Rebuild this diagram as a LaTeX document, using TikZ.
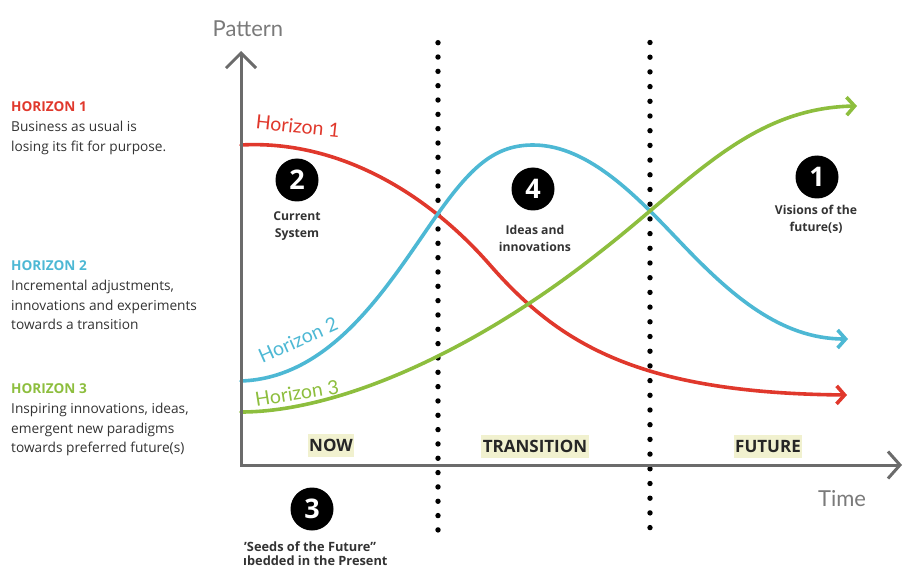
\documentclass[tikz,border=0pt]{standalone}
\usepackage{fontspec}
\setmainfont{Open Sans}
\newfontfamily\latofont{Lato}
\usetikzlibrary{arrows.meta}
\definecolor{hred}{HTML}{E0382C}
\definecolor{hblue}{HTML}{4DB8D4}
\definecolor{hgreen}{HTML}{8DBE3E}
\definecolor{axisgray}{HTML}{6B6B6B}
\definecolor{lightgray}{HTML}{7A7A7A}
\definecolor{hl}{HTML}{F1F1CF}
\definecolor{txt}{HTML}{333333}
\begin{document}
\begin{tikzpicture}[x=1pt,y=-1pt,
  curve/.style={line width=3.6pt, line cap=round, line join=round,
    -{Straight Barb[length=8pt,width=18pt]}},
  axisline/.style={line width=3pt, draw=axisgray, line join=miter,
    {Straight Barb[length=15pt,width=30pt]}-{Straight Barb[length=12pt,width=27pt]}},
  dotmark/.style={fill=black},
  numcirc/.style={circle, fill=black, minimum size=43pt, inner sep=0pt,
    text=white, font=\bfseries\fontsize{27}{27}\selectfont},
  lbl/.style={font=\bfseries\fontsize{12.2}{17}\selectfont, text=txt, align=center},
  seeds/.style={font=\bfseries\fontsize{12.8}{16}\selectfont, text=txt, anchor=base west, inner sep=0pt},
  region/.style={fill=hl, text=black!85, font=\bfseries\fontsize{17}{17}\selectfont,
    text height=12pt, text depth=0pt, inner xsep=1.5pt, inner ysep=5.5pt},
  lefthead/.style={anchor=base west, font=\bfseries\fontsize{13.6}{13.6}\selectfont, inner sep=0pt},
  leftbody/.style={anchor=base west, font=\fontsize{13.7}{13.7}\selectfont, text=txt, inner sep=0pt},
  axislabel/.style={anchor=base, font=\latofont\fontsize{22}{22}\selectfont, text=lightgray, inner sep=0pt},
  curvelabel/.style={font=\latofont\fontsize{19.5}{19.5}\selectfont, inner sep=0pt}
]
\useasboundingbox (0,0) rectangle (903,567);

% dotted dividers
\foreach \i in {0,...,34} \fill[dotmark] (438,{42.7+\i*14.33}) circle (2.7pt);
\foreach \i in {0,...,33} \fill[dotmark] (650,{42.5+\i*14.7}) circle (2.7pt);

% curves
\draw[curve, hred] (241,145) .. controls (330,140) and (420,185) .. (490,265)
  .. controls (560,345) and (640,393) .. (847,395);
\draw[curve, hblue] (241,381) .. controls (330,378) and (385,290) .. (430,225)
  .. controls (468,170) and (492,145) .. (533,145)
  .. controls (590,145) and (640,200) .. (683,245)
  .. controls (730,294) and (780,339) .. (848,339);
\draw[curve, hgreen] (241,412) .. controls (335,412) and (470,355) .. (600,252)
  .. controls (690,182) and (750,108) .. (857,106);

% axes
\coordinate (O) at (241,465);
\coordinate (ytip) at (241,51);
\coordinate (xtip) at (902,465);
\draw[axisline] (ytip) -- (O) -- (xtip);
\node[axislabel] (pattern) at (248,37) {Pattern};
\node[axislabel] (time) at (842,506) {Time};

% curve labels
\node[curvelabel, text=hred, rotate=-6] (h1lbl) at (298,126) {Horizon 1};
\node[curvelabel, text=hblue, rotate=24] (h2lbl) at (298,340) {Horizon 2};
\node[curvelabel, text=hgreen, rotate=9] (h3lbl) at (297,393) {Horizon 3};

% numbered circles
\node[numcirc] (c2) at (297,180) {2};
\node[lbl] (c2t) at (297,226) {Current\\System};
\node[numcirc] (c4) at (533,189) {4};
\node[lbl] (c4t) at (535,238) {Ideas and\\innovations};
\node[numcirc] (c1) at (817,177) {1};
\node[lbl] (c1t) at (816,219) {Visions of the\\future(s)};
\node[numcirc] (c3) at (312,509) {3};
\node[seeds] (c3a) at (244,551) {'Seeds of the Future"};
\node[seeds] (c3b) at (243,565.5) {ıbedded in the Present};

% region labels
\node[region] (now) at (331,445) {NOW};
\node[region] (trans) at (535,446) {TRANSITION};
\node[region] (fut) at (768,446) {FUTURE};

% left legend
\node[lefthead, text=hred] (l1h) at (11,112) {HORIZON 1};
\node[leftbody] (l1a) at (11,132) {Business as usual is};
\node[leftbody] (l1b) at (11,151.5) {losing its fit for purpose.};
\node[lefthead, text=hblue] (l2h) at (11,270) {HORIZON 2};
\node[leftbody] (l2a) at (11,290.5) {Incremental adjustments,};
\node[leftbody] (l2b) at (11,310) {innovations and experiments};
\node[leftbody] (l2c) at (11,329.5) {towards a transition};
\node[lefthead, text=hgreen] (l3h) at (11,393) {HORIZON 3};
\node[leftbody] (l3a) at (11,413.5) {Inspiring innovations, ideas,};
\node[leftbody] (l3b) at (11,433) {emergent new paradigms};
\node[leftbody] (l3c) at (11,452.5) {towards preferred future(s)};
\end{tikzpicture}
\end{document}
